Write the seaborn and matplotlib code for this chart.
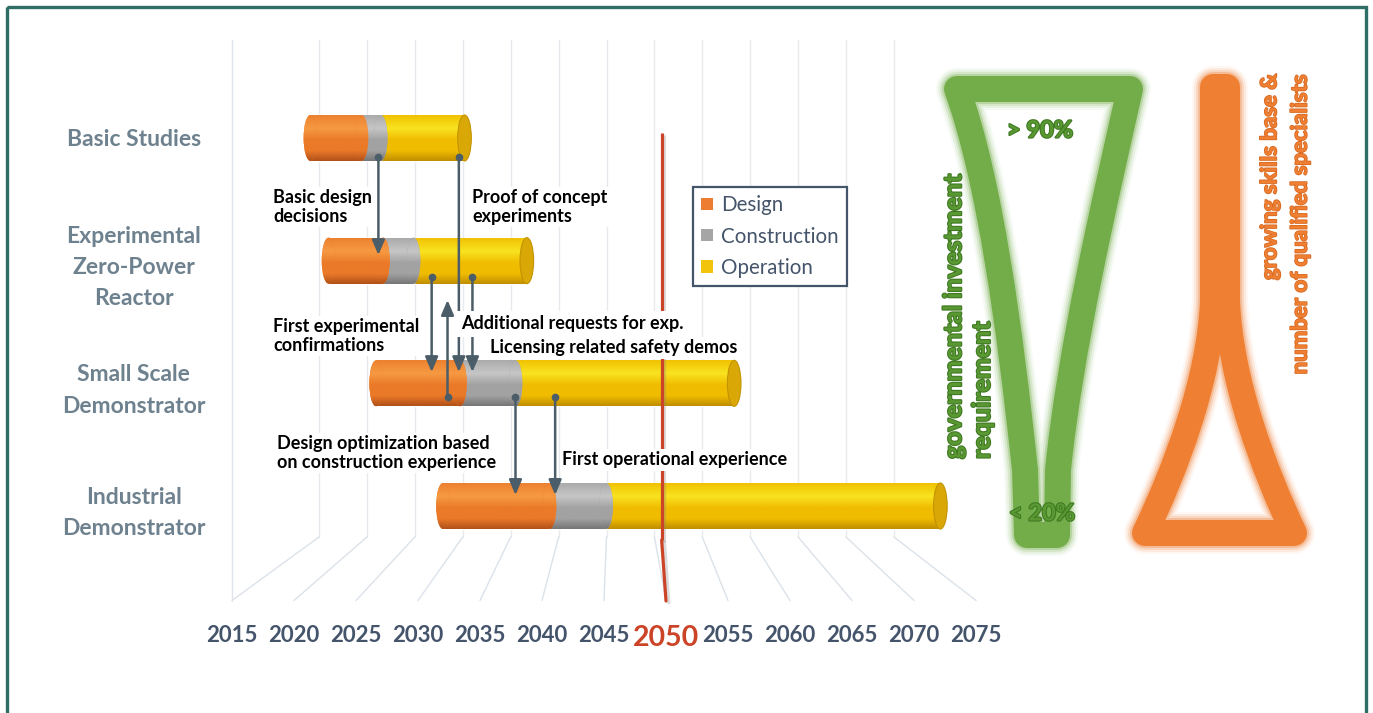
import numpy as np
import pandas as pd
import matplotlib
matplotlib.use("Agg")
import matplotlib.pyplot as plt
import seaborn as sns
from matplotlib.patches import Ellipse, Rectangle, PathPatch, ConnectionPatch, Patch
from matplotlib.path import Path
from matplotlib.colors import LinearSegmentedColormap
from matplotlib.lines import Line2D
import matplotlib.patheffects as pe

# ---------------- data ----------------
stages = ["Basic Studies", "Experimental\nZero-Power\nReactor",
          "Small Scale\nDemonstrator", "Industrial\nDemonstrator"]
design_start = [2019.0, 2020.6, 2024.8, 2030.7]
construction_start = [2023.5, 2025.4, 2032.2, 2040.1]
operation_start = [2025.2, 2028.1, 2037.1, 2045.1]
operation_end = [2032.6, 2038.1, 2056.4, 2074.6]
phases = ["Design", "Construction", "Operation"]
tick_years = list(range(2015, 2080, 5))
milestone_year = 2050

# dependency arrows: year, from (stage position), to (stage position)
arrow_year = [2025.0, 2029.7, 2031.1, 2032.1, 2033.3, 2037.1, 2040.6]
arrow_from = [0.155, 1.133, 2.115, 0.155, 1.133, 2.115, 2.115]
arrow_to = [0.954, 1.908, 1.321, 1.908, 1.908, 2.910, 2.910]

# ---------------- style ----------------
W, H = 1373, 713
sns.set_theme(style="white")
plt.rcParams["font.family"] = ["Lato", "DejaVu Sans"]

phase_colors = ["#ed7d31", "#a5a5a5", "#f2c40c"]
grad_stops = [("#ec7f2e", "#f69a42", "#ea7a28", "#b0501a"),
              ("#a9a9a9", "#c6c6c6", "#a2a2a2", "#767676"),
              ("#f0bf00", "#f9e320", "#f0bc00", "#c08e00")]
slate = "#44546a"
arrow_color = "#4b5d68"
red = "#cc4428"

fig = plt.figure(figsize=(W / 100, H / 100), dpi=100)
fig.patch.set_facecolor("white")


def fx(px):
    return px / W


def fy(py):
    return 1 - py / H


# back wall (perspective)
axb = fig.add_axes([fx(319), fy(537), (894 - 319) / W, (537 - 40) / H], zorder=0)
axb.set_xlim(tick_years[0], tick_years[-1])
axb.set_ylim(0, 1)
axb.axis("off")
for yr in tick_years:
    axb.axvline(yr, color="#e6eaef", lw=1, clip_on=False)

# front edge with year labels
axf = fig.add_axes([fx(232), fy(601), (976 - 232) / W, 1 / H], zorder=0)
axf.set_xlim(tick_years[0], tick_years[-1])
axf.set_ylim(0, 1)
axf.set_xticks(tick_years)
axf.set_xticklabels([str(y) for y in tick_years])
axf.set_yticks([])
axf.tick_params(axis="x", length=0, pad=17, labelsize=16, labelcolor=slate)
for lab in axf.get_xticklabels():
    lab.set_fontweight("bold")
    if lab.get_text() == str(milestone_year):
        lab.set_color(red)
        lab.set_fontsize(20.5)
for s in axf.spines.values():
    s.set_visible(False)
axf.patch.set_alpha(0)

# floor lines connecting back wall and front edge
for yr in tick_years:
    con = ConnectionPatch(xyA=(yr, 0), coordsA=axb.transData,
                          xyB=(yr, 0.5), coordsB=axf.transData,
                          color="#dbe2e9", lw=1, zorder=0.5)
    con.set_clip_on(False)
    fig.add_artist(con)

# main (bar plane) axes
px_per_year = 11.33
ax = fig.add_axes([fx(220), fy(600), (1000 - 220) / W, (600 - 40) / H], zorder=2)
ax.patch.set_alpha(0)

df = pd.DataFrame({
    "stage": stages,
    "design_start": design_start,
    "construction_start": construction_start,
    "operation_start": operation_start,
    "operation_end": operation_end,
})
df["Design"] = df["construction_start"] - df["design_start"]
df["Construction"] = df["operation_start"] - df["construction_start"]
df["Operation"] = df["operation_end"] - df["operation_start"]
starts = {"Design": "design_start", "Construction": "construction_start",
          "Operation": "operation_start"}

bar_h = 0.375
cap_w = 1.2


def cyl_cmap(top, light, base, dark):
    return LinearSegmentedColormap.from_list(
        "cyl", [(0, top), (0.3, light), (0.55, base), (0.78, base), (1, dark)])


grad = np.linspace(0, 1, 128).reshape(-1, 1)


def shade(patch, cmap, x0, x1, ytop, ybot, z):
    im = ax.imshow(grad, cmap=cmap, aspect="auto", extent=(x0, x1, ybot, ytop),
                   origin="upper", interpolation="bilinear", zorder=z)
    im.set_clip_path(patch)


phase_patches = {}
for k in [2, 1, 0]:
    ph = phases[k]
    n0 = len(ax.patches)
    sns.barplot(data=df, y="stage", x=ph, order=stages, orient="h",
                color=phase_colors[k], saturation=1, width=bar_h,
                errorbar=None, left=df[starts[ph]].to_numpy(), ax=ax,
                zorder=3 + (2 - k) * 0.5)
    phase_patches[ph] = list(ax.patches[n0:])

for k in [2, 1, 0]:
    ph = phases[k]
    cmap = cyl_cmap(*grad_stops[k])
    z = 3 + (2 - k) * 0.5
    for i, p in enumerate(phase_patches[ph]):
        p.set_zorder(z)
        x0, y0 = p.get_x(), p.get_y()
        w, h = p.get_width(), p.get_height()
        shade(p, cmap, x0 - 1, x0 + w + 1, y0, y0 + h, z + 0.05)
        yc = y0 + h / 2
        if ph != "Operation":
            # rounded joint bulging into the next phase
            e = Ellipse((x0 + w, yc), cap_w, h, facecolor=phase_colors[k],
                        edgecolor="none", zorder=z + 0.1)
            ax.add_patch(e)
            shade(e, cmap, x0 + w - cap_w, x0 + w + cap_w, y0, y0 + h, z + 0.15)
        else:
            e = Ellipse((x0 + w, yc), cap_w, h, facecolor="#d9a807",
                        edgecolor="#c39300", lw=0.8, zorder=z + 0.3)
            ax.add_patch(e)
        if ph == "Design":
            e = Ellipse((x0, yc), cap_w, h, facecolor=phase_colors[k],
                        edgecolor="none", zorder=z + 0.1)
            ax.add_patch(e)
            shade(e, cmap, x0 - cap_w, x0 + cap_w, y0, y0 + h, z + 0.15)

# dependency arrows
for yr, y0, y1 in zip(arrow_year, arrow_from, arrow_to):
    ax.annotate("", xy=(yr, y1), xytext=(yr, y0),
                arrowprops=dict(arrowstyle="-|>,head_length=0.75,head_width=0.32",
                                color=arrow_color, lw=1.8, shrinkA=0, shrinkB=0),
                zorder=8)
    ax.plot([yr], [y0], marker="o", ms=4.5, color=arrow_color, zorder=9)

# 2050 marker line
shadow = [pe.SimpleLineShadow(offset=(2, -1.2), shadow_color="#888888", alpha=0.3),
          pe.Normal()]
ax.plot([milestone_year, milestone_year], [-0.04, 3.277], color=red, lw=2.3,
        zorder=7, path_effects=shadow, solid_capstyle="butt")
con = ConnectionPatch(xyA=(milestone_year, 3.277), coordsA=ax.transData,
                      xyB=(milestone_year, 0.0), coordsB=axf.transData,
                      color=red, lw=2.3, zorder=2.5, path_effects=shadow)
con.set_clip_on(False)
fig.add_artist(con)

ax.set_xlim(2045 + (220 - 605) / px_per_year, 2045 + (1000 - 605) / px_per_year)
ax.set_ylim((600 - 138) / 122.67, (40 - 138) / 122.67)
ax.set_xticks([])
ax.set_xlabel("")
ax.set_ylabel("")
ax.set_yticks(range(len(stages)))
ax.set_yticklabels(stages)
ax.tick_params(axis="y", length=0, pad=62, labelsize=16.5, labelcolor="#6e818e")
for lab in ax.get_yticklabels():
    lab.set_horizontalalignment("center")
    lab.set_multialignment("center")
    lab.set_fontweight("bold")
    lab.set_linespacing(1.6)
for s in ax.spines.values():
    s.set_visible(False)

handles = [Patch(facecolor=c, edgecolor="none") for c in phase_colors]
leg = ax.legend(handles, phases, loc="upper left",
                bbox_to_anchor=(fx(693), fy(187)), bbox_transform=fig.transFigure,
                frameon=True, fancybox=False, edgecolor=slate, framealpha=1,
                fontsize=14.8, handlelength=0.55, handleheight=0.55,
                handletextpad=0.4, labelspacing=0.55, borderpad=0.4,
                borderaxespad=0)
leg.get_frame().set_linewidth(1.6)
leg.set_zorder(20)
for t in leg.get_texts():
    t.set_color(slate)

# ---------------- overlay canvas (pixel coordinates) ----------------
cv = fig.add_axes([0, 0, 1, 1], zorder=3)
cv.set_xlim(0, W)
cv.set_ylim(H, 0)
cv.axis("off")
cv.patch.set_alpha(0)

cv.add_patch(Rectangle((7, 7), 1359, 730, fill=False, edgecolor="#2f6e66",
                       lw=2.4, clip_on=False))
cv.add_line(Line2D([232, 232], [40, 601], color="#dfe5eb", lw=1))

txt_kw = dict(fontsize=13, fontweight="bold", color="black", linespacing=1.15,
              va="center", ha="left")
box = dict(facecolor="white", edgecolor="none", pad=1.5)
cv.text(273, 207, "Basic design\ndecisions", bbox=box, **txt_kw)
cv.text(472, 207, "Proof of concept\nexperiments", bbox=box, **txt_kw)
cv.text(273, 336, "First experimental\nconfirmations", bbox=box, **txt_kw)
cv.text(461, 324, "Additional requests for exp.",
        bbox=dict(facecolor="white", edgecolor="none", pad=3.5), **txt_kw)
cv.text(490, 348, "Licensing related safety demos", bbox=box, **txt_kw)
cv.text(277, 453, "Design optimization based\non construction experience", bbox=box, **txt_kw)
cv.text(562, 460, "First operational experience", bbox=box, **txt_kw)

# funnel shapes (smooth outlines)
M, L, C, X = Path.MOVETO, Path.LINETO, Path.CURVE4, Path.CLOSEPOLY
green_path = Path(
    [(1027, 535), (1025, 470), (1010, 330), (990, 180), (957, 89),
     (1130, 89), (1105, 200), (1070, 350), (1058, 470), (1057, 535), (1027, 535)],
    [M, L, C, C, C, L, C, C, C, L, X])
orange_path = Path(
    [(1213, 87), (1213, 300), (1210, 380), (1175, 470), (1145, 533),
     (1294, 533), (1264, 470), (1230, 380), (1227, 300), (1227, 87), (1213, 87)],
    [M, L, C, C, C, L, C, C, C, L, X])


def soft_stroke(path, color):
    for lw_px, a in [(42, 0.06), (38, 0.1), (34, 0.16), (30, 0.3)]:
        cv.add_patch(PathPatch(path, fill=False, edgecolor=color, lw=lw_px * 0.72,
                               alpha=a, joinstyle="round", capstyle="round"))
    cv.add_patch(PathPatch(path, fill=False, edgecolor=color, lw=26 * 0.72,
                           joinstyle="round", capstyle="round"))


soft_stroke(green_path, "#72ad4a")
soft_stroke(orange_path, "#ef8033")

gtxt = dict(fontweight="bold", color="#5a9833",
            path_effects=[pe.withStroke(linewidth=1.6, foreground="#3f7a22")])
cv.text(968, 459, "governmental investment\nrequirement", rotation=90,
        rotation_mode="anchor", ha="left", va="center", multialignment="left",
        fontsize=18, linespacing=1.3, **gtxt)
cv.text(1040, 130, "> 90%", ha="center", va="center", fontsize=17, **gtxt)
cv.text(1042, 513, "< 20%", ha="center", va="center", fontsize=17, **gtxt)
cv.text(1285, 73, "growing skills base &\nnumber of qualified specialists",
        rotation=90, rotation_mode="anchor", ha="right", va="center",
        multialignment="right", fontsize=16, linespacing=1.55, fontweight="bold",
        color="#ee7f33",
        path_effects=[pe.withStroke(linewidth=1.2, foreground="#d8691f")])

fig.savefig("out.png", dpi=100, facecolor="white")
